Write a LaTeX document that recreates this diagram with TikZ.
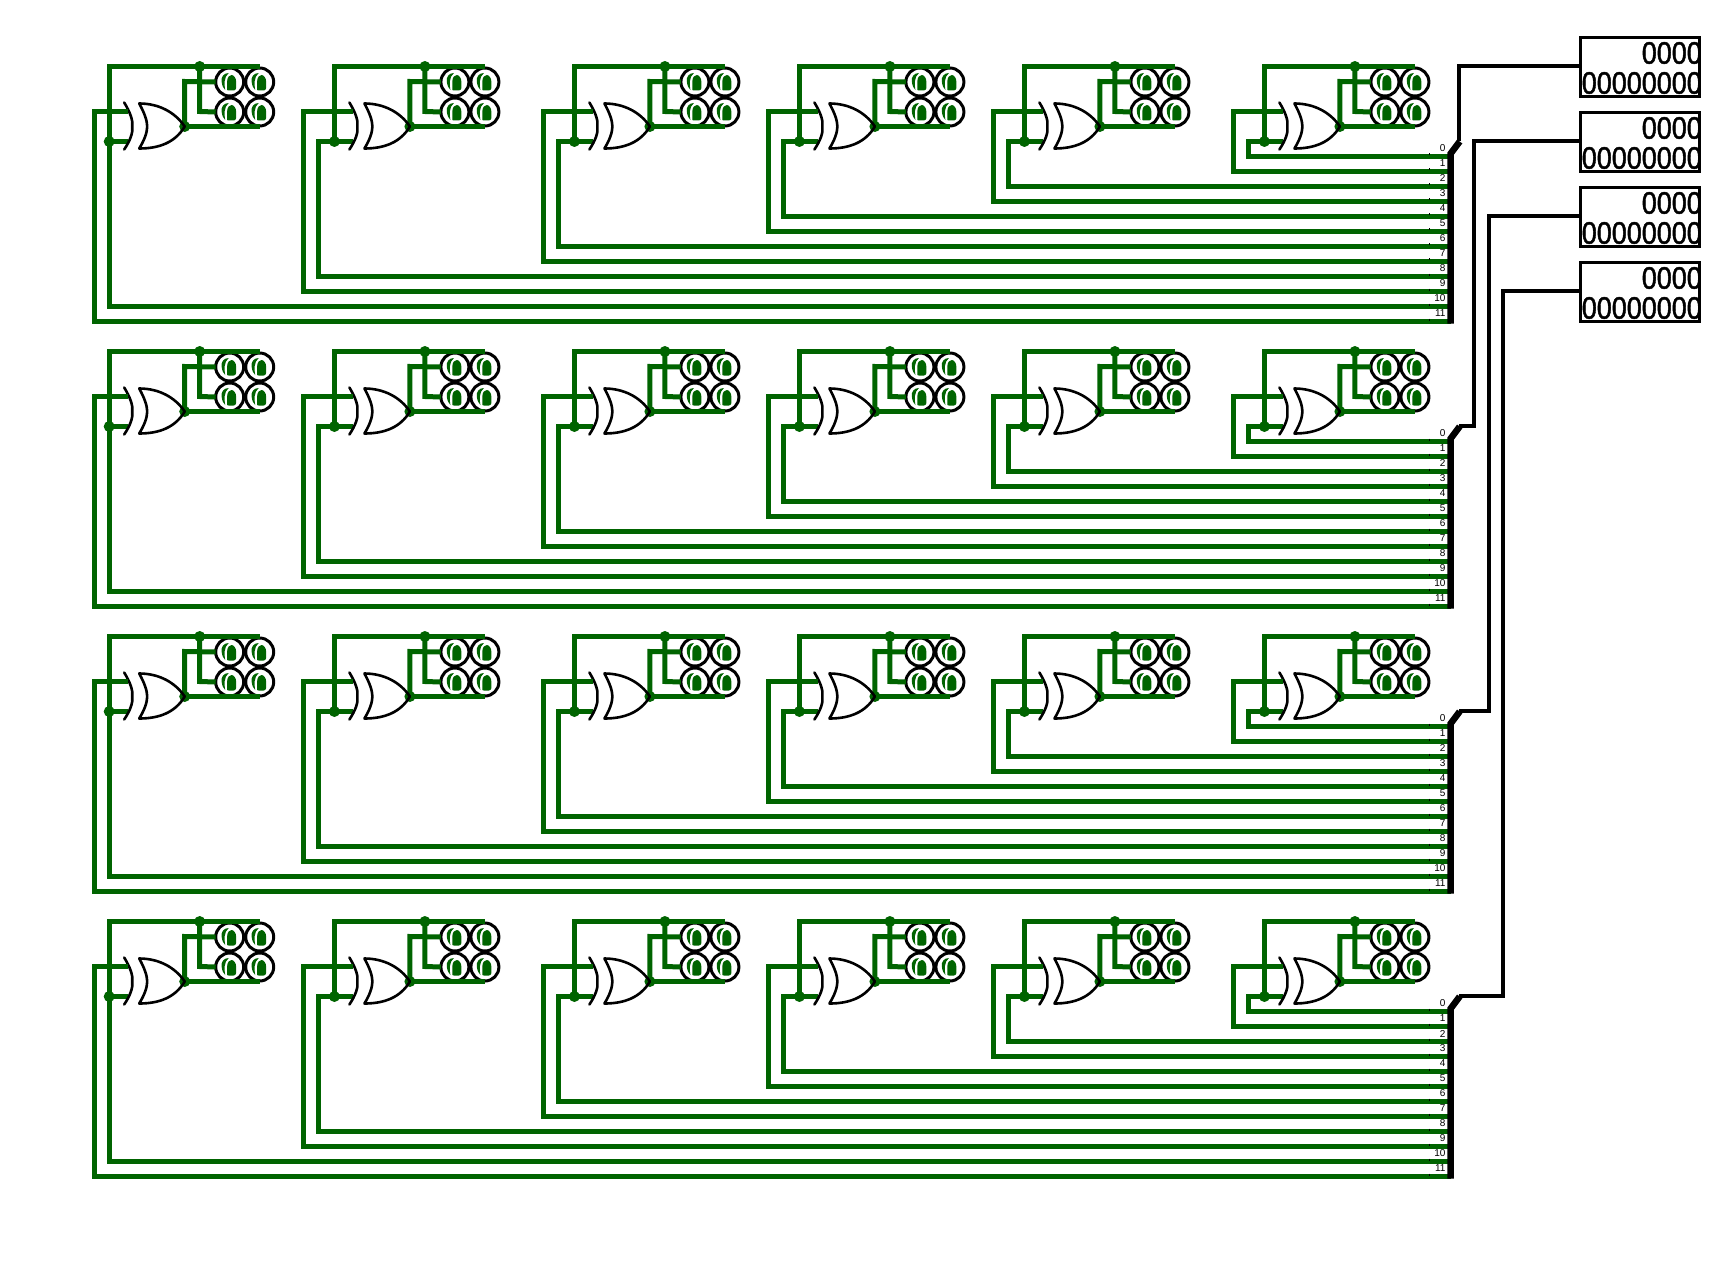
\documentclass[tikz,border=0pt]{standalone}
\usepackage{fontspec}
\setmainfont{Liberation Sans}
\newfontfamily\digitfont[FakeBold=1.6]{Liberation Sans}
\definecolor{wiregreen}{HTML}{006400}
\tikzset{
  wire/.style={draw=wiregreen,line width=5pt,line join=miter},
  junction/.style={circle,fill=wiregreen,inner sep=0pt,minimum size=11pt},
  gateline/.style={draw=black,line width=2.6pt,line join=round,line cap=round},
  ledring/.style={circle,draw=black,fill=white,line width=3pt,inner sep=0pt,minimum size=28pt,outer sep=0pt},
  signal/.style={draw=black,line width=4.8pt,line join=miter},
  bus/.style={draw=black,line width=6.5pt,line join=miter},
  probe/.style={draw=black,fill=white,line width=3.6pt,minimum width=119pt,minimum height=59pt,inner sep=0pt,outer sep=0pt},
  buslabel/.style={anchor=east,inner sep=0pt,font=\fontsize{10pt}{10pt}\selectfont},
  digitrow/.style={anchor=east,inner sep=0pt,font=\fontsize{31pt}{31pt}\digitfont},
}
% one LED: ring node and its glyph
\newcommand{\ledat}[3]{%
  \node[ledring] (#1) at (#2,#3) {};
  \begin{scope}[shift={(#1.center)}]
    \fill[wiregreen] (-2.5,8) -- (-2.5,-1) .. controls (-2.5,-5) and (0,-7) .. (2,-7) .. controls (4,-7) and (6.5,-4) .. (6.5,0) -- (6.5,6) .. controls (6.5,7.5) and (5,8.5) .. (4,8.5) -- (-1,8.5) -- cycle;
    \fill[wiregreen] (-1,-9) .. controls (-6,-9) and (-9,-5) .. (-8,0) .. controls (-7.5,4) and (-6.5,6) .. (-4.5,8) .. controls (-5.5,3) and (-6,-5) .. (-1,-9) -- cycle;
  \end{scope}
}
% one XOR cell: #1 top vertical x, rest relative to it
\newcommand{\cell}[1]{%
  \begin{scope}[xshift=#1pt]
    \ledat{la}{120.5}{81.5}
    \ledat{lb}{150.5}{81.5}
    \ledat{lc}{120.5}{111.5}
    \ledat{ld}{150.5}{111.5}
    \coordinate (inA) at (19,111);
    \coordinate (inB) at (19,141);
    \node[junction] (jin) at (0,141) {};
    \node[junction] (jtop) at (90.5,66) {};
    \node[junction] (jout) at (75.5,126) {};
    \draw[wire] (jin.center) -- (0,66) -- (151,66);
    \draw[wire] (jin.center) -- (inB);
    \draw[wire] (jtop.center) -- (90.5,111) -- (lc.west);
    \draw[wire] (jout.center) -- (75.5,81) -- (la.west);
    \draw[wire] (jout.center) -- (151,126);
    \draw[gateline] (15,102) .. controls (21,112) and (24,120) .. (23,126) .. controls (24,132) and (21,140) .. (15,149);
    \draw[gateline] (30,103) .. controls (35,112) and (38,120) .. (38,126) .. controls (38,132) and (35,140) .. (30,148)
      .. controls (50,148) and (66,142) .. (75.5,126) .. controls (66,112) and (50,103) .. (30,103) -- cycle;
  \end{scope}
}
\begin{document}
\begin{tikzpicture}[x=1pt,y=-1pt]
\useasboundingbox (0,0) rectangle (1728,1265);
\fill[white] (0,0) rectangle (1728,1265);

% rows of cells
\foreach \rowidx in {0,1,2,3}{
  \begin{scope}[xshift=0.7pt,yshift={-285pt*\rowidx-0.5pt}]
    \foreach \cx in {108.5,333.7,573.7,798.7,1023.7,1263.7}{\cell{\cx}}
    % column 1 feed lines
    \draw[wire] (108.5,141) -- (108.5,306) -- (1450,306);
    \draw[wire] (127,111) -- (93.5,111) -- (93.5,321) -- (1450,321);
    % columns 2 to 6 feed lines: x of vertical, inner y, outer y
    \foreach \cx/\yin/\yout in {333/276/291,573/246/261,798/216/231,1023/186/201,1263/156/171}{
      \draw[wire] (\cx+0.7,141) -- (\cx-15,141) -- (\cx-15,\yin) -- (1450,\yin);
      \draw[wire] (\cx+19,111) -- (\cx-30,111) -- (\cx-30,\yout) -- (1450,\yout);
    }
    % bus labels and ticks
    \foreach \n in {0,...,11}{
      \node[buslabel] (lab\n) at (1445,148+15*\n) {\n};
      \draw[black,line width=0.6pt] (1429,153+15*\n) -- (1429,155+15*\n);
    }
    % bus
    \coordinate (busend) at (1450,323);
    \coordinate (busknee) at (1450,153);
    \coordinate (bustop) at (1459,141);
    \draw[bus] (busend) -- (busknee) -- (bustop);
  \end{scope}
}

% probes
\foreach \i/\cy in {0/67,1/142,2/217,3/292}{
  \node[probe] (probe\i) at (1640,\cy) {};
  \begin{scope}
    \clip (1580,\cy-30) rectangle (1700,\cy+30);
    \node[digitrow] (hi\i) at (1702,\cy-14) {\scalebox{.87}[1]{0000}};
    \node[digitrow] (lo\i) at (1702,\cy+16) {\scalebox{.87}[1]{00000000}};
  \end{scope}
  \draw[black,line width=3.6pt] (probe\i.south west) rectangle (probe\i.north east);
}

% signal lines from buses to probes
\coordinate (k0) at (1459,141);
\coordinate (k1) at (1459,426);
\coordinate (k2) at (1459,711);
\coordinate (k3) at (1459,996);
\coordinate (p0) at (probe0.west |- 0,66);
\coordinate (p1) at (probe1.west |- 0,141);
\coordinate (p2) at (probe2.west |- 0,216);
\coordinate (p3) at (probe3.west |- 0,291);
\draw[signal] (k0) -- (1459,66) -- (p0);
\draw[signal] (k1) -- (1474,426) -- (1474,141) -- (p1);
\draw[signal] (k2) -- (1489,711) -- (1489,216) -- (p2);
\draw[signal] (k3) -- (1503,996) -- (1503,291) -- (p3);
\end{tikzpicture}
\end{document}
